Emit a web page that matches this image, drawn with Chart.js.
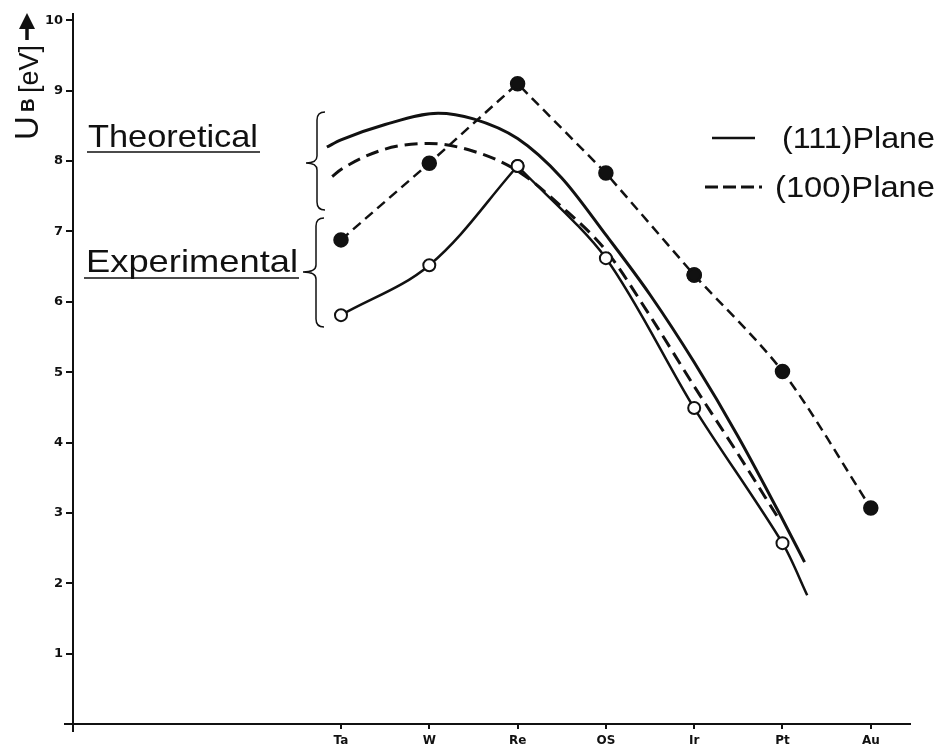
<!DOCTYPE html>
<html>
<head>
<meta charset="utf-8">
<script src="https://cdn.jsdelivr.net/npm/chart.js@4.4.1/dist/chart.umd.min.js"></script>
<style>
  html, body { margin: 0; padding: 0; background: #fff; }
  #wrap { width: 938px; height: 749px; }
</style>
</head>
<body>
<div id="wrap"><canvas id="chart" width="938" height="749"></canvas></div>
<script>
// --- data ---
const categories = ['Ta', 'W', 'Re', 'OS', 'Ir', 'Pt', 'Au'];
const yTicks = [0, 1, 2, 3, 4, 5, 6, 7, 8, 9, 10];

// experimental, filled circles, (100) plane
const exp100 = [6.88, 7.97, 9.1, 7.83, 6.38, 5.01, 3.07];
// experimental, open circles, (111) plane (Ta..Pt), curve runs on past Pt
const exp111 = [5.81, 6.52, 7.93, 6.62, 4.49, 2.57];
const exp111EndX = [5.28];
const exp111EndY = [1.83];

// theoretical curves (x in category units, Ta = 0)
const theo111X = [-0.16, 0, 0.5, 1.1, 1.5, 2, 2.5, 3, 3.5, 4, 4.5, 5, 5.25];
const theo111Y = [8.2, 8.3, 8.52, 8.68, 8.6, 8.32, 7.76, 6.95, 6.1, 5.14, 4.08, 2.91, 2.3];
const theo100X = [-0.1, 0, 0.5, 1, 1.5, 2, 2.5, 3, 3.5, 4, 4.5, 4.95];
const theo100Y = [7.78, 7.88, 8.17, 8.25, 8.14, 7.86, 7.35, 6.73, 5.8, 4.8, 3.83, 2.93];

const INK = '#111';
const pts = (xs, ys) => xs.map((x, i) => ({ x: x, y: ys[i] }));
const idx = categories.map((c, i) => i);

const exp111Pts = pts(idx.slice(0, exp111.length), exp111);
const exp111Tail = exp111Pts.slice(2).concat(pts(exp111EndX, exp111EndY));
const exp100Pts = pts(idx, exp100);

// --- extra drawing: axis title, braces, labels, key ---
function fitText(ctx, text, x, y, width, size) {
    ctx.font = size + 'px "Liberation Sans"';
    const w = ctx.measureText(text).width;
    ctx.save();
    ctx.translate(x, y);
    ctx.scale(width / w, 1);
    ctx.fillText(text, 0, 0);
    ctx.restore();
}

function brace(ctx, x, top, bottom, tipX, tipY) {
    ctx.beginPath();
    ctx.moveTo(x + 8, top);
    ctx.quadraticCurveTo(x, top, x, top + 8);
    ctx.lineTo(x, tipY - 7);
    ctx.quadraticCurveTo(x, tipY, tipX, tipY);
    ctx.quadraticCurveTo(x, tipY, x, tipY + 7);
    ctx.lineTo(x, bottom - 8);
    ctx.quadraticCurveTo(x, bottom, x + 8, bottom);
    ctx.stroke();
}

const annotations = {
    id: 'annotations',
    afterDraw(chart) {
        const ctx = chart.ctx;
        const area = chart.chartArea;
        ctx.save();
        ctx.fillStyle = INK;
        ctx.strokeStyle = INK;
        ctx.textBaseline = 'alphabetic';
        ctx.textAlign = 'left';

        // axes run a little past the origin
        ctx.lineWidth = 2;
        ctx.beginPath();
        ctx.moveTo(area.left, area.bottom);
        ctx.lineTo(area.left, area.bottom + 8);
        ctx.moveTo(area.left, area.bottom);
        ctx.lineTo(area.left - 9, area.bottom);
        ctx.stroke();

        // y axis title: U_B [eV] with arrow, rotated
        ctx.save();
        ctx.translate(38, 140);
        ctx.rotate(-Math.PI / 2);
        ctx.font = '33px "Liberation Sans"';
        ctx.fillText('U', 0, 0);
        ctx.font = 'bold 19px "Liberation Sans"';
        ctx.fillText('B', 28, -4);
        ctx.font = '27px "Liberation Sans"';
        ctx.fillText('[eV]', 47, 0);
        ctx.lineWidth = 3.5;
        ctx.beginPath();
        ctx.moveTo(100, -11);
        ctx.lineTo(116, -11);
        ctx.stroke();
        ctx.beginPath();
        ctx.moveTo(127, -11);
        ctx.lineTo(111, -19);
        ctx.lineTo(111, -3);
        ctx.closePath();
        ctx.fill();
        ctx.restore();

        // group labels
        fitText(ctx, 'Theoretical', 88, 147, 170, 32);
        fitText(ctx, 'Experimental', 86, 272, 212, 32);
        ctx.lineWidth = 1.6;
        ctx.beginPath();
        ctx.moveTo(87, 152); ctx.lineTo(260, 152);
        ctx.moveTo(84, 278); ctx.lineTo(299, 278);
        ctx.stroke();

        ctx.lineWidth = 1.5;
        brace(ctx, 317, 112, 210, 306, 163);
        brace(ctx, 316, 218, 327, 303, 272);

        // key
        ctx.lineWidth = 2.5;
        ctx.beginPath();
        ctx.moveTo(712, 138); ctx.lineTo(755, 138);
        ctx.stroke();
        ctx.setLineDash([13, 5]);
        ctx.lineWidth = 3;
        ctx.beginPath();
        ctx.moveTo(705, 187); ctx.lineTo(762, 187);
        ctx.stroke();
        ctx.setLineDash([]);
        fitText(ctx, '(111)Plane', 782, 148, 153, 30);
        fitText(ctx, '(100)Plane', 775, 197, 160, 30);
        ctx.restore();
    }
};

const lineBase = {
    borderColor: INK,
    pointBorderColor: INK,
    fill: false,
    showLine: true
};

new Chart(document.getElementById('chart'), {
    type: 'scatter',
    data: {
        datasets: [
            Object.assign({}, lineBase, {
                data: exp111Pts.slice(0, 3),
                borderWidth: 2.5,
                tension: 0.35,
                pointRadius: 6,
                pointBorderWidth: 2,
                pointBackgroundColor: '#fff',
                order: 1
            }),
            Object.assign({}, lineBase, {
                data: exp111Tail,
                borderWidth: 2.5,
                tension: 0.3,
                pointRadius: exp111Tail.map((p, i) => i < exp111Tail.length - 1 ? 6 : 0),
                pointBorderWidth: 2,
                pointBackgroundColor: '#fff',
                order: 1
            }),
            Object.assign({}, lineBase, {
                data: exp100Pts.slice(0, 5),
                borderWidth: 2.5,
                borderDash: [10, 6],
                tension: 0,
                pointRadius: 6.5,
                pointBackgroundColor: INK,
                order: 2
            }),
            Object.assign({}, lineBase, {
                data: exp100Pts.slice(4),
                borderWidth: 2.5,
                borderDash: [10, 6],
                tension: 0.3,
                pointRadius: 6.5,
                pointBackgroundColor: INK,
                order: 2
            }),
            Object.assign({}, lineBase, {
                data: pts(theo111X, theo111Y),
                borderWidth: 3,
                cubicInterpolationMode: 'monotone',
                pointRadius: 0,
                order: 3
            }),
            Object.assign({}, lineBase, {
                data: pts(theo100X, theo100Y),
                borderWidth: 3,
                borderDash: [13, 7],
                cubicInterpolationMode: 'monotone',
                pointRadius: 0,
                order: 4
            })
        ]
    },
    options: {
        responsive: false,
        animation: false,
        layout: { padding: { top: 14, right: 28, bottom: 0, left: 0 } },
        plugins: {
            legend: { display: false },
            tooltip: { enabled: false }
        },
        scales: {
            x: {
                type: 'linear',
                min: -3.035,
                max: 6.444,
                afterBuildTicks: axis => { axis.ticks = idx.map(v => ({ value: v })); },
                afterFit: axis => { axis.height = 25; },
                border: { display: true, color: INK, width: 2 },
                grid: { display: true, drawOnChartArea: false, drawTicks: true, tickLength: 5, color: INK, lineWidth: 2 },
                ticks: {
                    autoSkip: false,
                    maxRotation: 0,
                    padding: 5,
                    color: INK,
                    font: { family: 'DejaVu Sans', size: 12, weight: 'bold' },
                    callback: v => categories[v]
                }
            },
            y: {
                min: 0,
                max: 10.09,
                afterBuildTicks: axis => { axis.ticks = yTicks.filter(v => v > 0).map(v => ({ value: v })); },
                afterFit: axis => { axis.width = 73; },
                border: { display: true, color: INK, width: 2 },
                grid: { display: true, drawOnChartArea: false, drawTicks: true, tickLength: 7, color: INK, lineWidth: 2 },
                ticks: {
                    padding: 3,
                    color: INK,
                    font: { family: 'DejaVu Sans', size: 13, weight: 'bold' },
                    callback: v => String(v)
                }
            }
        }
    },
    plugins: [annotations]
});
</script>
</body>
</html>
